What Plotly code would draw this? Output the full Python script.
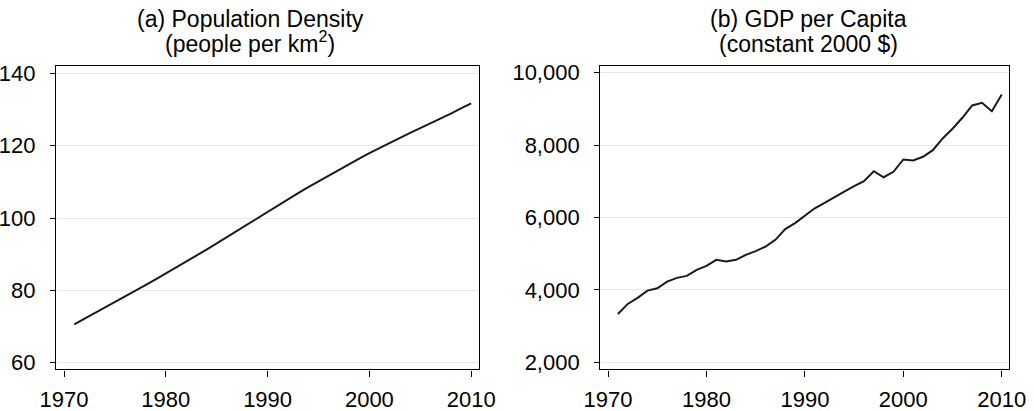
import plotly.graph_objects as go

years = list(range(1971, 2011))

pop_density = [70.6, 72.12, 73.65, 75.19, 76.74, 78.30, 79.87, 81.45, 83.04, 84.64,
               86.26, 87.90, 89.57, 91.27, 93.00, 94.75, 96.51, 98.27, 100.03, 101.78,
               103.51, 105.21, 106.88, 108.52, 110.14, 111.74, 113.32, 114.88, 116.41, 117.91,
               119.37, 120.79, 122.17, 123.52, 124.85, 126.15, 127.50, 128.88, 130.28, 131.68]

gdp_pc = [3336, 3613, 3779, 3981, 4046, 4230, 4332, 4387, 4553, 4664,
          4830, 4784, 4830, 4968, 5070, 5198, 5383, 5679, 5845, 6050,
          6255, 6404, 6570, 6717, 6864, 7002, 7278, 7112, 7262, 7602,
          7574, 7677, 7860, 8183, 8451, 8755, 9095, 9170, 8938, 9400]

x_ticks = [1970, 1980, 1990, 2000, 2010]
pop_ticks = [60, 80, 100, 120, 140]
gdp_ticks = [2000, 4000, 6000, 8000, 10000]

title_a1 = "(a) Population Density"
title_a2 = "(people per km<sup>2</sup>)"
title_b1 = "(b) GDP per Capita"
title_b2 = "(constant 2000 $)"

W, H = 1034, 411
FONT = "Liberation Sans, Arial, sans-serif"
GRID = "#ece6df"
LINE = "#1a1a1a"

fig = go.Figure()
fig.add_trace(go.Scatter(x=years, y=pop_density, mode="lines",
                         line=dict(color=LINE, width=2), xaxis="x", yaxis="y",
                         showlegend=False, hoverinfo="skip"))
fig.add_trace(go.Scatter(x=years, y=gdp_pc, mode="lines",
                         line=dict(color=LINE, width=2), xaxis="x2", yaxis="y2",
                         showlegend=False, hoverinfo="skip"))

ydom = [1 - 369.3 / H, 1 - 65.7 / H]

common_x = dict(range=[1969.21, 2010.77], tickvals=x_ticks, ticks="outside",
                ticklen=6, tickwidth=1.2, tickcolor="black", showline=True,
                linecolor="black", linewidth=1.4, mirror=True, showgrid=False,
                zeroline=False, automargin=False,
                tickfont=dict(size=22, color="black", family=FONT),
                ticklabelstandoff=4)
common_y = dict(ticks="outside", ticklen=5, tickwidth=1.2, tickcolor="black",
                showline=True, linecolor="black", linewidth=1.4, mirror=True,
                showgrid=True, gridcolor=GRID, gridwidth=1, zeroline=False,
                automargin=False,
                tickfont=dict(size=22, color="black", family=FONT),
                ticklabelstandoff=10)


def title(text, xpx, ypx):
    return dict(text=text, x=xpx / W, y=1 - ypx / H, xref="paper", yref="paper",
                xanchor="center", yanchor="bottom", showarrow=False, borderpad=0,
                font=dict(size=23, color="black", family=FONT))


fig.update_layout(
    template="none",
    width=W, height=H,
    margin=dict(l=0, r=0, t=0, b=0, pad=0),
    paper_bgcolor="white", plot_bgcolor="white",
    font=dict(family=FONT, color="black"),
    xaxis=dict(domain=[56 / W, 479 / W], anchor="y", **common_x),
    xaxis2=dict(domain=[600.3 / W, 1009.3 / W], anchor="y2", **common_x),
    yaxis=dict(domain=ydom, anchor="x", range=[58.2, 142.1], tickvals=pop_ticks,
               **common_y),
    yaxis2=dict(domain=ydom, anchor="x2", range=[1807, 10193], tickvals=gdp_ticks,
                tickformat=",", **common_y),
    annotations=[
        title(title_a1, 250, 33),
        title(title_a2, 250, 58),
        title(title_b1, 808, 33),
        title(title_b2, 808, 58),
    ],
)

fig.write_html("out.html", config={"displayModeBar": False},
               post_script="document.body.style.margin='0';")
